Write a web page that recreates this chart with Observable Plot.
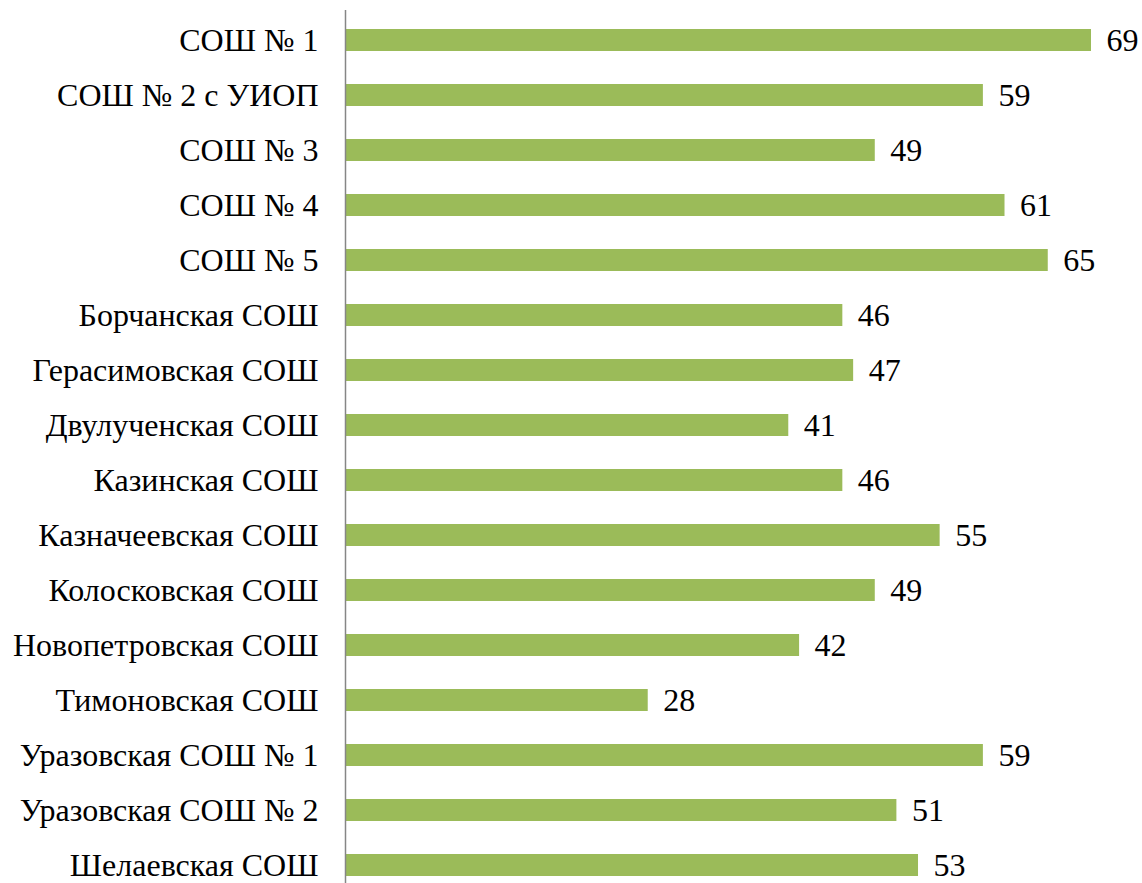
<!DOCTYPE html>
<html>
<head>
<meta charset="utf-8">
<script src="https://cdn.jsdelivr.net/npm/d3@7"></script>
<script src="https://cdn.jsdelivr.net/npm/@observablehq/plot@0.6"></script>
<style>
  html, body { margin: 0; padding: 0; background: #fff; }
  #chart svg { display: block; }
  #chart svg text { font-family: "Liberation Serif" !important; }
</style>
</head>
<body>
<div id="chart"></div>
<script>
const schools = [
  "СОШ № 1", "СОШ № 2 с УИОП", "СОШ № 3", "СОШ № 4", "СОШ № 5",
  "Борчанская СОШ", "Герасимовская СОШ", "Двулученская СОШ", "Казинская СОШ",
  "Казначеевская СОШ", "Колосковская СОШ", "Новопетровская СОШ", "Тимоновская СОШ",
  "Уразовская СОШ № 1", "Уразовская СОШ № 2", "Шелаевская СОШ"
];
const values = [69, 59, 49, 61, 65, 46, 47, 41, 46, 55, 49, 42, 28, 59, 51, 53];

const data = schools.map((s, i) => ({school: s, value: values[i]}));

const chart = Plot.plot({
  width: 1142,
  height: 883,
  marginTop: 10,
  marginBottom: 0,
  marginLeft: 345,
  marginRight: 0,
  style: {fontFamily: "Liberation Serif", fontSize: "32px", color: "#000", background: "#fff"},
  x: {domain: [0, 69], range: [345, 1091], axis: null},
  y: {domain: schools, range: [10.4, 893.6], paddingInner: 0.6, paddingOuter: 0.3, label: null},
  marks: [
    Plot.barX(data, {x: "value", y: "school", fill: "#9BBB59"}),
    Plot.text(data, {x: "value", y: "school", text: d => String(d.value), textAnchor: "start", dx: 15, fontSize: 32, fontFamily: "Liberation Serif", fill: "#000"}),
    Plot.axisY({tickSize: 0, tickPadding: 27, fontSize: 32, fontFamily: "Liberation Serif", label: null, fill: "#000"}),
    Plot.ruleX([0], {stroke: "#868686", strokeWidth: 1.5})
  ]
});
document.getElementById("chart").appendChild(chart);
</script>
</body>
</html>
